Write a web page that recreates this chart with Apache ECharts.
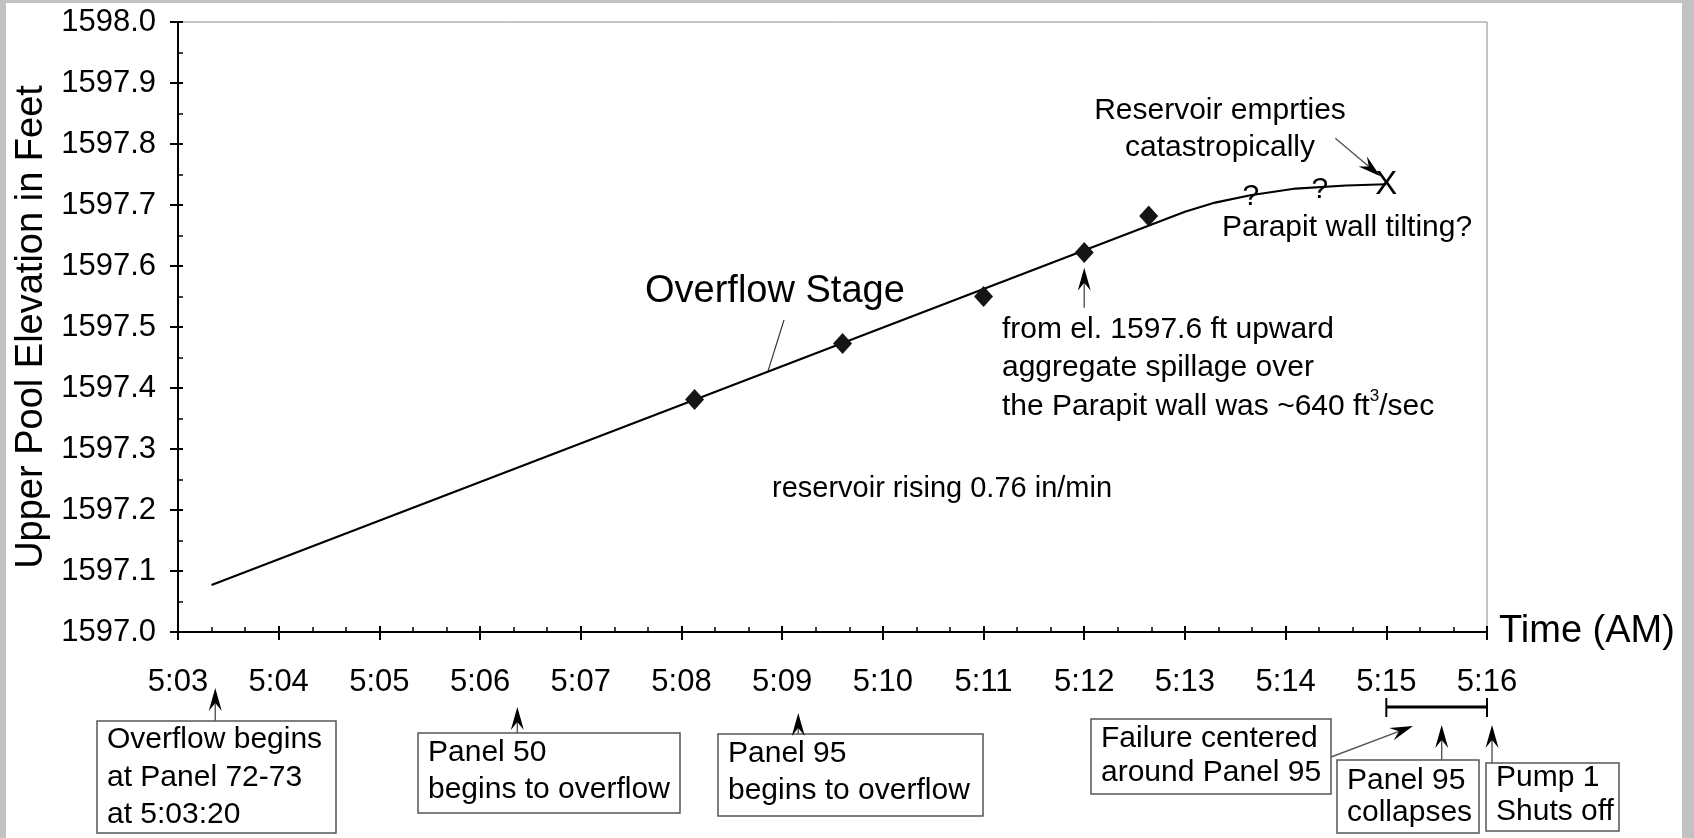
<!DOCTYPE html>
<html>
<head>
<meta charset="utf-8">
<title>Upper Pool Elevation</title>
<script src="https://cdn.jsdelivr.net/npm/echarts@6/dist/echarts.min.js"></script>
<style>
html, body { margin: 0; padding: 0; background: #c2c2c2; }
#paper { position: absolute; left: 6px; top: 3px; width: 1676px; height: 835px; background: #fff; }
#chart { position: absolute; left: 0; top: 0; width: 1694px; height: 838px; }
</style>
</head>
<body>
<div id="paper"></div>
<div id="chart"></div>
<script>
// time is minutes after 5:00 AM, elevation in feet
const lineTimes  = [3.333, 13.0, 13.3, 13.65, 14.1, 14.6, 15.0];
const lineLevels = [1597.077, 1597.689, 1597.704, 1597.716, 1597.727, 1597.732, 1597.734];

const obsTimes  = [8.13, 9.6, 11.0, 12.0, 12.64];
const obsLevels = [1597.381, 1597.473, 1597.550, 1597.622, 1597.682];

const failTimes  = [15.0];
const failLevels = [1597.734];

const questionTimes  = [13.655, 14.34];
const questionLevels = [1597.716, 1597.726];

const xTicks = [3, 16];   // 5:03 .. 5:16
const yTicks = [1597.0, 1598.0];

// bottom annotations: arrow times and label lines
const eventTimes = [3.37, 6.37, 9.16, 15.55, 16.05];
const collapseWindow = [15.0, 16.0];
const boxLines = [
    ['Overflow begins', 'at Panel 72-73', 'at 5:03:20'],
    ['Panel 50', 'begins to overflow'],
    ['Panel 95', 'begins to overflow'],
    ['Failure centered', 'around Panel 95'],
    ['Panel 95', 'collapses'],
    ['Pump 1', 'Shuts off']
];

const FONT = '"Liberation Sans", Arial, sans-serif';
const INK = '#000';

let chart = echarts.init(document.getElementById('chart'));

let baseAxisX = {
    type: 'value', min: xTicks[0], max: xTicks[1], interval: 1, position: 'bottom',
    splitLine: {show: false}
};
let baseAxisY = {
    type: 'value', min: yTicks[0], max: yTicks[1], interval: 0.1, position: 'left',
    splitLine: {show: false}
};

let option = {
    animation: false,
    grid: {
        left: 178, right: 207, top: 22, bottom: 206,
        show: true, borderColor: '#8a8a8a', borderWidth: 1,
        outerBoundsMode: 'none'
    },
    xAxis: [
        Object.assign({}, baseAxisX, {
            axisLine: {lineStyle: {color: '#000', width: 2}},
            axisTick: {length: 8, lineStyle: {color: '#000', width: 2}},
            axisLabel: {
                margin: 35, fontSize: 31, color: INK, fontFamily: FONT,
                formatter: v => '5:' + String(Math.round(v)).padStart(2, '0')
            },
            name: 'Time (AM)', nameLocation: 'end', nameGap: 12,
            nameTextStyle: {fontSize: 38, color: INK, fontFamily: FONT, verticalAlign: 'middle'}
        }),
        Object.assign({}, baseAxisX, {
            axisLine: {show: false},
            axisTick: {inside: true, length: 6, lineStyle: {color: '#000', width: 2}},
            minorTick: {show: true, splitNumber: 3, length: 5, lineStyle: {color: '#000', width: 1.5}},
            axisLabel: {show: false}
        })
    ],
    yAxis: [
        Object.assign({}, baseAxisY, {
            axisLine: {lineStyle: {color: '#000', width: 2}},
            axisTick: {length: 8, lineStyle: {color: '#000', width: 2}},
            axisLabel: {
                margin: 22, fontSize: 31, color: INK, fontFamily: FONT,
                formatter: v => v.toFixed(1)
            },
            name: 'Upper Pool Elevation in Feet', nameLocation: 'middle', nameGap: 126,
            nameTextStyle: {fontSize: 38, color: INK, fontFamily: FONT}
        }),
        Object.assign({}, baseAxisY, {
            axisLine: {show: false},
            axisTick: {inside: true, length: 5, lineStyle: {color: '#000', width: 2}},
            minorTick: {show: true, splitNumber: 2, length: 5, lineStyle: {color: '#000', width: 1.5}},
            axisLabel: {show: false}
        })
    ],
    series: [
        {
            name: 'Overflow Stage', type: 'line',
            data: lineTimes.map((t, i) => [t, lineLevels[i]]),
            showSymbol: false, symbol: 'none',
            lineStyle: {color: '#000', width: 2.2}
        },
        {
            name: 'observed', type: 'scatter',
            data: obsTimes.map((t, i) => [t, obsLevels[i]]),
            symbol: 'diamond', symbolSize: [19, 21],
            itemStyle: {color: '#151515', opacity: 1}, z: 3
        }
    ]
};
chart.setOption(option);

// ---- annotations ----
function toX(t) {
    return chart.convertToPixel({xAxisIndex: 0}, t);
}
function toXY(t, v) {
    return chart.convertToPixel({xAxisIndex: 0, yAxisIndex: 0}, [t, v]);
}
function text(str, x, y, size, align) {
    return {
        type: 'text', x: x, y: y, silent: true, z: 10,
        style: {text: str, fontSize: size || 30, fill: INK, fontFamily: FONT,
            align: align || 'left', verticalAlign: 'middle'}
    };
}
function arrow(x1, y1, x2, y2) {
    let dx = x2 - x1, dy = y2 - y1;
    let len = Math.sqrt(dx * dx + dy * dy);
    let ux = dx / len, uy = dy / len;
    let px = -uy, py = ux;
    let L = 23, N = 15, W = 6.5;
    return [
        {type: 'line', silent: true,
            shape: {x1: x1, y1: y1, x2: x2 - ux * N, y2: y2 - uy * N},
            style: {stroke: '#555', lineWidth: 1.4}},
        {type: 'polygon', silent: true,
            shape: {points: [
                [x2, y2],
                [x2 - ux * L + px * W, y2 - uy * L + py * W],
                [x2 - ux * N, y2 - uy * N],
                [x2 - ux * L - px * W, y2 - uy * L - py * W]
            ]},
            style: {fill: '#000'}}
    ];
}
function box(x, y, w, h, lines, lineGap, padTop) {
    let els = [{type: 'rect', silent: true, shape: {x: x, y: y, width: w, height: h},
        style: {fill: '#fff', stroke: '#555', lineWidth: 1.5}}];
    lines.forEach((s, i) => els.push(text(s, x + 10, y + padTop + i * lineGap)));
    return els;
}

let g = [];
// boxes below the axis
g = g.concat(box(97, 721, 239, 112, boxLines[0], 37.5, 19));
g = g.concat(box(418, 733, 262, 80, boxLines[1], 36.5, 20));
g = g.concat(box(718, 734, 265, 82, boxLines[2], 36.5, 20));
g = g.concat(box(1091, 719, 240, 75, boxLines[3], 34, 20));
g = g.concat(box(1337, 760, 142, 73, boxLines[4], 32, 21));
g = g.concat(box(1486, 763, 133, 68, boxLines[5], 34, 15));

g = g.concat(arrow(toX(eventTimes[0]), 721, toX(eventTimes[0]), 688));
g = g.concat(arrow(toX(eventTimes[1]), 733, toX(eventTimes[1]), 707));
g = g.concat(arrow(toX(eventTimes[2]), 734, toX(eventTimes[2]), 713));
g = g.concat(arrow(toX(eventTimes[3]), 760, toX(eventTimes[3]), 725));
g = g.concat(arrow(toX(eventTimes[4]), 763, toX(eventTimes[4]), 725));
g = g.concat(arrow(1331, 757, 1413, 726));

// collapse window bracket
let bx1 = toX(collapseWindow[0]), bx2 = toX(collapseWindow[1]);
g.push({type: 'line', silent: true, shape: {x1: bx1, y1: 707, x2: bx2, y2: 707}, style: {stroke: '#000', lineWidth: 3}});
g.push({type: 'line', silent: true, shape: {x1: bx1, y1: 698, x2: bx1, y2: 717}, style: {stroke: '#000', lineWidth: 2}});
g.push({type: 'line', silent: true, shape: {x1: bx2, y1: 698, x2: bx2, y2: 717}, style: {stroke: '#000', lineWidth: 2}});

// labels inside the plot
g.push(text('Overflow Stage', 645, 292, 38));
let leadEnd = toXY(8.86, 1597.428);
g.push({type: 'line', silent: true,
    shape: {x1: leadEnd[0] + 16, y1: leadEnd[1] - 51, x2: leadEnd[0], y2: leadEnd[1]},
    style: {stroke: '#333', lineWidth: 1.2}});

g.push(text('reservoir rising 0.76 in/min', 772, 489, 29));

let elTip = toXY(12.0, 1597.597);
g = g.concat(arrow(elTip[0], elTip[1] + 40, elTip[0], elTip[1]));
g.push(text('from el. 1597.6 ft upward', 1002, 330));
g.push(text('aggregate spillage over', 1002, 368));
g.push({
    type: 'text', x: 1002, y: 405, silent: true,
    style: {
        text: '{n|the Parapit wall was ~640 ft}{s|3}{n|/sec}',
        verticalAlign: 'middle', align: 'left',
        rich: {
            n: {fontSize: 30, fill: INK, fontFamily: FONT, lineHeight: 34, verticalAlign: 'bottom'},
            s: {fontSize: 17, fill: INK, fontFamily: FONT, lineHeight: 34, verticalAlign: 'top'}
        }
    }
});

// failure mark and uncertain stretch of the curve
let xMark = toXY(failTimes[0], failLevels[0]);
g.push(text('X', xMark[0], xMark[1] + 1, 33, 'center'));
questionTimes.forEach((t, i) => {
    let p = toXY(t, questionLevels[i]);
    g.push(text('?', p[0], p[1] + 1, 30, 'center'));
});

g.push(text('Reservoir emprties', 1220, 111, 30, 'center'));
g.push(text('catastropically', 1220, 148, 30, 'center'));
g = g.concat(arrow(xMark[0] - 51, xMark[1] - 46, xMark[0] - 6, xMark[1] - 8));
g.push(text('Parapit wall tilting?', 1222, 228));

chart.setOption({graphic: {elements: g}});
</script>
</body>
</html>
